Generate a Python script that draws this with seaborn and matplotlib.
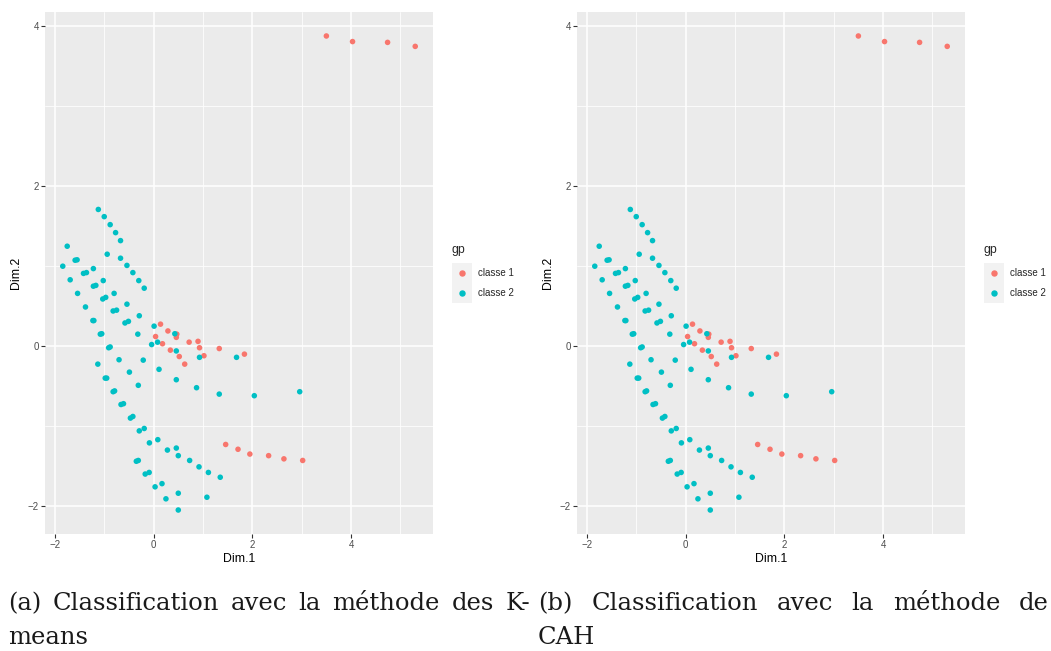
import matplotlib
matplotlib.use('Agg')
import matplotlib.pyplot as plt
from matplotlib.lines import Line2D
from matplotlib.patches import Rectangle
from matplotlib.ticker import MultipleLocator
import pandas as pd
import seaborn as sns

# coordonnees des individus
dim1_c1 = [0.14, 0.04, 0.29, 0.47, 0.46, 0.72, 0.90, 0.18, 0.93, 1.33, 0.34, 0.52,
           1.02, 0.63, 1.84, 1.46, 1.71, 1.95, 2.33, 2.64, 3.02, 3.50, 4.03, 4.74, 5.30]
dim2_c1 = [0.275, 0.12, 0.19, 0.15, 0.11, 0.05, 0.06, 0.03, -0.02, -0.03, -0.05, -0.13,
           -0.12, -0.225, -0.10, -1.23, -1.29, -1.35, -1.37, -1.41, -1.43, 3.88, 3.81, 3.80, 3.75]

dim1_c2 = [-1.12, -1.00, -0.88, -0.77, -0.67, -1.75, -0.94, -0.67, -1.59, -1.55, -1.84, -0.54,
           -1.22, -1.42, -1.36, -0.42, -1.69, -1.02, -0.30, -1.22, -1.17, -0.19, -1.54, -0.80,
           -1.03, -0.97, -0.54, -1.38, -0.82, -0.75, -0.29, -1.23, -1.21, -0.58, -0.51, 0.01,
           -1.08, -1.05, -0.32, 0.43, 0.08, -0.04, -0.91, -0.88, 0.46, 0.93, 1.68, -1.13,
           -0.70, -0.21, 0.11, -0.49, -0.31, 0.46, 0.87, 1.33, 2.04, 2.96, -0.98, -0.95,
           -0.82, -0.79, -0.66, -0.61, -0.47, -0.42, -0.29, -0.19, -0.085, 0.085, 0.28, 0.46,
           0.50, 0.73, 0.92, 1.11, 1.35, -0.35, -0.31, -0.17, -0.09, 0.03, 0.17, 0.25,
           0.50, 1.08, 0.50]
dim2_c2 = [1.71, 1.62, 1.52, 1.42, 1.32, 1.25, 1.15, 1.10, 1.075, 1.08, 1.00, 1.01,
           0.97, 0.91, 0.92, 0.92, 0.83, 0.82, 0.82, 0.75, 0.76, 0.725, 0.66, 0.66,
           0.59, 0.61, 0.525, 0.49, 0.44, 0.45, 0.38, 0.32, 0.32, 0.29, 0.31, 0.25,
           0.15, 0.155, 0.15, 0.155, 0.05, 0.02, -0.02, -0.01, -0.06, -0.14, -0.14, -0.225,
           -0.17, -0.175, -0.29, -0.325, -0.49, -0.42, -0.52, -0.60, -0.62, -0.57, -0.40, -0.40,
           -0.57, -0.56, -0.73, -0.72, -0.90, -0.88, -1.06, -1.03, -1.21, -1.17, -1.30, -1.275,
           -1.37, -1.43, -1.51, -1.58, -1.64, -1.44, -1.43, -1.60, -1.58, -1.76, -1.72, -1.91,
           -1.84, -1.89, -2.05]

classes = ['classe 1', 'classe 2']
colors = ['#F8766D', '#00BFC4']
ticks = [-2, 0, 2, 4]

df = pd.DataFrame({
    'Dim.1': dim1_c1 + dim1_c2,
    'Dim.2': dim2_c1 + dim2_c2,
    'gp': [classes[0]] * len(dim1_c1) + [classes[1]] * len(dim1_c2),
})
pal = dict(zip(classes, colors))

sns.set_theme(style='darkgrid', rc={'axes.facecolor': '#EBEBEB'})
plt.rcParams['font.family'] = ['Liberation Sans', 'DejaVu Sans']

W, H = 1051, 651
fig = plt.figure(figsize=(W / 100, H / 100), dpi=100)
fig.patch.set_facecolor('white')


def fx(px):
    return px / W


def fy(py):
    return 1 - py / H


for off in [0, 532]:
    ax = fig.add_axes([fx(45 + off), fy(534), fx(388), 522 / H])
    sns.scatterplot(data=df, x='Dim.1', y='Dim.2', hue='gp', palette=pal,
                    s=16, linewidth=0, legend=False, ax=ax)
    ax.set_xlim(-2.2, 5.66)
    ax.set_ylim(-2.35, 4.18)
    ax.set_xticks(ticks)
    ax.set_yticks(ticks)
    ax.xaxis.set_minor_locator(MultipleLocator(1))
    ax.yaxis.set_minor_locator(MultipleLocator(1))
    ax.set_axisbelow(True)
    ax.grid(which='major', color='white', linewidth=1.1)
    ax.grid(which='minor', color='white', linewidth=0.55)
    for sp in ax.spines.values():
        sp.set_visible(False)
    ax.tick_params(which='major', length=3, width=0.8, color='#333333',
                   labelcolor='#4D4D4D', labelsize=7, pad=1.5, bottom=True, left=True)
    ax.tick_params(which='minor', length=0)
    ax.set_xlabel('Dim.1', fontsize=8.8, labelpad=2, color='black')
    ax.set_ylabel('Dim.2', fontsize=8.8, labelpad=4, color='black')

    # legende facon ggplot
    fig.text(fx(452 + off), fy(250), 'gp', fontsize=8.8, va='center', ha='left')
    fig.add_artist(Rectangle((fx(452 + off), fy(303)), fx(20), 40 / H,
                             transform=fig.transFigure, facecolor='#F2F2F2', edgecolor='none'))
    for i, (lab, col) in enumerate(zip(classes, colors)):
        yy = 273 + i * 19.5
        fig.add_artist(Line2D([fx(462 + off)], [fy(yy)], marker='o', markersize=3.6,
                              color=col, linestyle='none', transform=fig.transFigure))
        fig.text(fx(478 + off), fy(yy), lab, fontsize=7, va='center', ha='left')

# legendes des sous-figures (texte justifie)
cap = dict(family=['DejaVu Serif'], fontsize=17.5, va='center',
           ha='left', color='#1a1a1a')
words_a = '(a) Classification avec la méthode des K-'.split()
words_b = '(b) Classification avec la méthode de'.split()
txt_a = [fig.text(0, fy(604), w, **cap) for w in words_a]
txt_b = [fig.text(0, fy(604), w, **cap) for w in words_b]
fig.canvas.draw()
rend = fig.canvas.get_renderer()


def justify(texts, x0, x1, last_start=False):
    widths = [t.get_window_extent(rend).width for t in texts]
    if last_start:
        gap = (x1 - x0 - sum(widths[:-1])) / (len(texts) - 1)
    else:
        gap = (x1 - x0 - sum(widths)) / (len(texts) - 1)
    x = x0
    for t, wd in zip(texts, widths):
        t.set_x(fx(x))
        x += wd + gap


justify(txt_a, 8, 530)
justify(txt_b, 538, 1019, last_start=True)
fig.text(fx(8), fy(638), 'means', **cap)
fig.text(fx(538), fy(638), 'CAH', **cap)

fig.savefig('out.png', dpi=100)
